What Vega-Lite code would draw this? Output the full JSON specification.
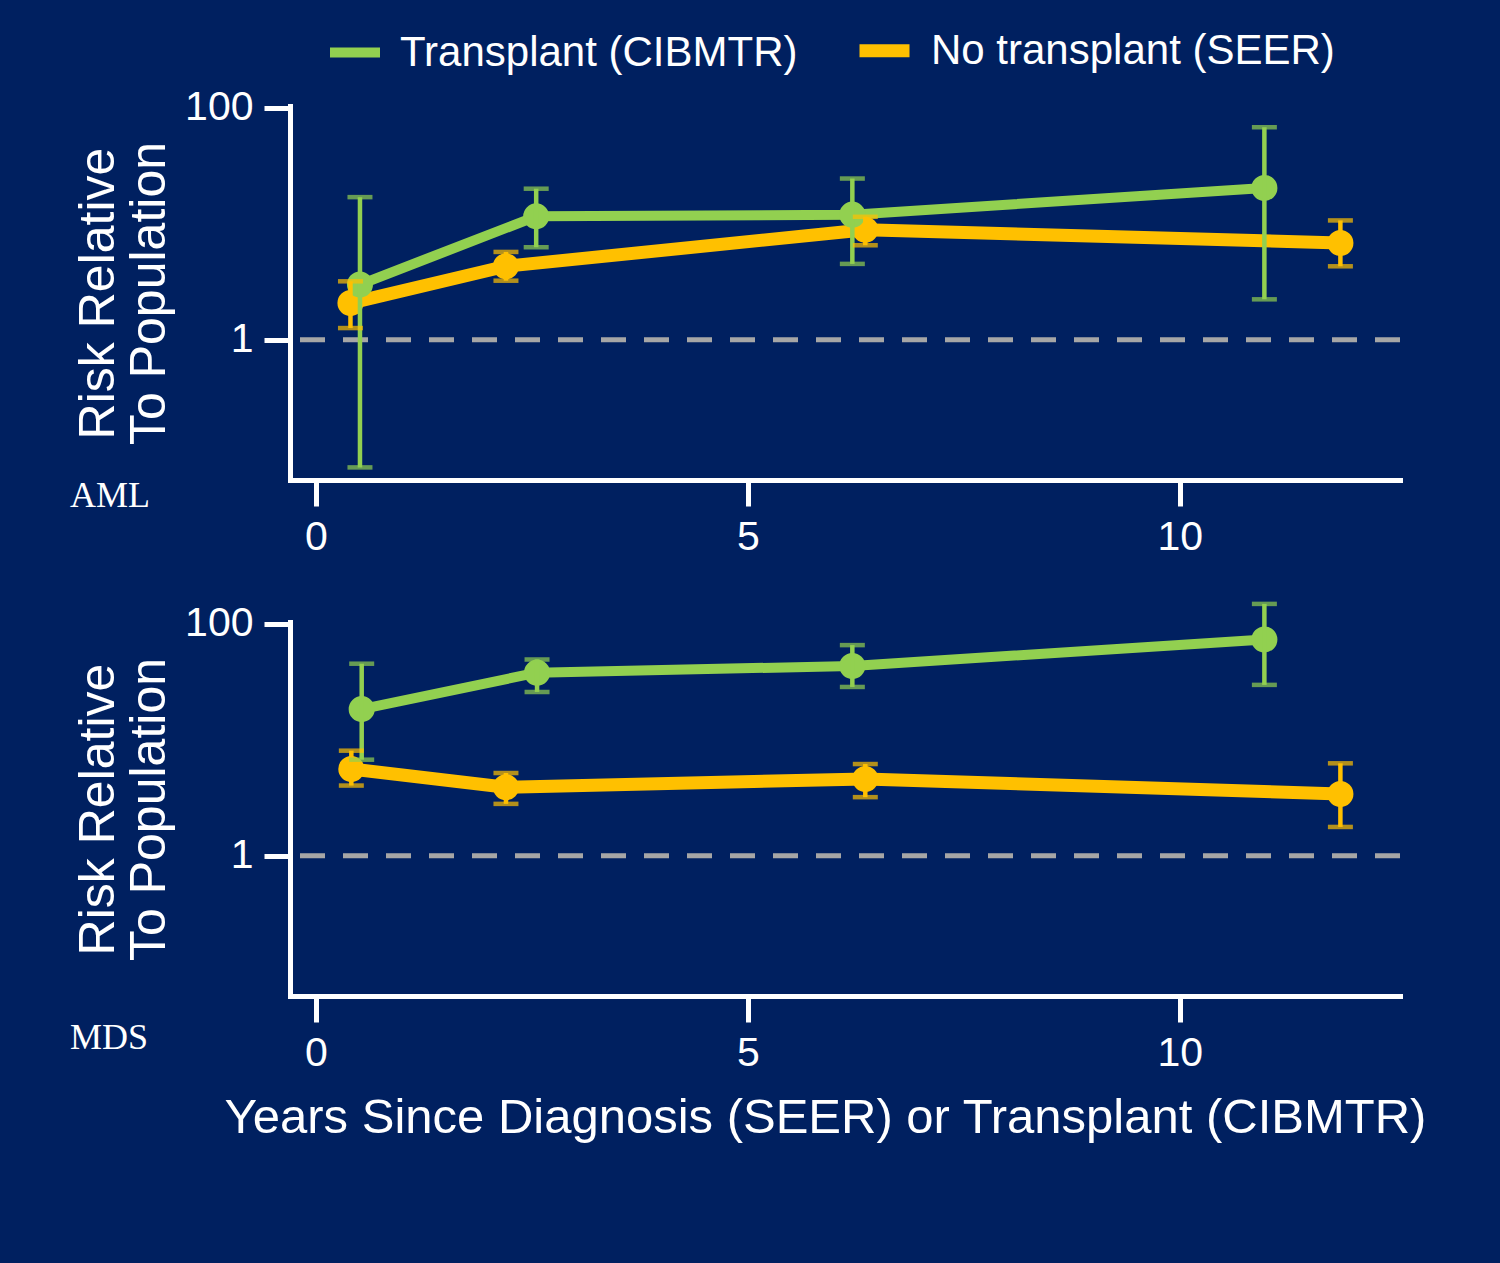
{
  "$schema": "https://vega.github.io/schema/vega-lite/v6.json",
  "background": "#002060",
  "padding": {"left": 70, "top": 19, "right": 73, "bottom": 138},
  "bounds": "flush",
  "spacing": 142,
  "config": {
    "view": {"stroke": null},
    "font": "Liberation Sans",
    "axis": {
      "domainColor": "white", "domainWidth": 5, "domainCap": "square",
      "tickColor": "white", "tickWidth": 5, "tickSize": 26,
      "labelColor": "white", "labelFont": "Liberation Sans", "labelFontSize": 41,
      "titleColor": "white", "titleFont": "Liberation Sans", "titleFontWeight": "normal",
      "grid": false
    }
  },
  "datasets": {
    "risk": [
      {"panel": "AML", "group": "No transplant (SEER)", "years": 0.40, "est": 2.07, "lo": 1.26, "hi": 3.19},
      {"panel": "AML", "group": "No transplant (SEER)", "years": 2.20, "est": 4.30, "lo": 3.23, "hi": 5.72},
      {"panel": "AML", "group": "No transplant (SEER)", "years": 6.36, "est": 8.9, "lo": 6.53, "hi": 11.5},
      {"panel": "AML", "group": "No transplant (SEER)", "years": 11.86, "est": 6.84, "lo": 4.30, "hi": 10.7},
      {"panel": "AML", "group": "Transplant (CIBMTR)", "years": 0.51, "est": 2.99, "lo": 0.079, "hi": 17.0},
      {"panel": "AML", "group": "Transplant (CIBMTR)", "years": 2.55, "est": 11.6, "lo": 6.28, "hi": 20.1},
      {"panel": "AML", "group": "Transplant (CIBMTR)", "years": 6.21, "est": 12.0, "lo": 4.51, "hi": 24.6},
      {"panel": "AML", "group": "Transplant (CIBMTR)", "years": 10.98, "est": 20.4, "lo": 2.23, "hi": 68.2},
      {"panel": "MDS", "group": "No transplant (SEER)", "years": 0.41, "est": 5.60, "lo": 4.03, "hi": 8.06},
      {"panel": "MDS", "group": "No transplant (SEER)", "years": 2.20, "est": 3.90, "lo": 2.80, "hi": 5.17},
      {"panel": "MDS", "group": "No transplant (SEER)", "years": 6.36, "est": 4.59, "lo": 3.20, "hi": 6.18},
      {"panel": "MDS", "group": "No transplant (SEER)", "years": 11.86, "est": 3.41, "lo": 1.77, "hi": 6.27},
      {"panel": "MDS", "group": "Transplant (CIBMTR)", "years": 0.53, "est": 18.4, "lo": 6.74, "hi": 45.4},
      {"panel": "MDS", "group": "Transplant (CIBMTR)", "years": 2.56, "est": 38.0, "lo": 25.9, "hi": 49.4},
      {"panel": "MDS", "group": "Transplant (CIBMTR)", "years": 6.21, "est": 43.4, "lo": 28.6, "hi": 65.7},
      {"panel": "MDS", "group": "Transplant (CIBMTR)", "years": 10.98, "est": 73.5, "lo": 29.8, "hi": 149}
    ],
    "ref": [{"ref": 1}]
  },
  "vconcat": [
    {
      "width": 1110, "height": 374,
      "title": {"text": "AML", "orient": "bottom", "anchor": "start", "frame": "group", "font": "Liberation Serif", "fontSize": 36, "fontWeight": "normal", "color": "white", "dx": -220, "dy": -78, "offset": 0},
      "layer": [
        {
          "data": {"name": "ref"},
          "mark": {"type": "rule", "color": "#a6a6a6", "strokeWidth": 5, "strokeDash": [25, 18]},
          "encoding": {"y": {"field": "ref", "type": "quantitative", "scale": {"type": "log", "domain": [0.0615, 104], "nice": false}}}
        },
        {
          "data": {"name": "risk"},
          "transform": [{"filter": "datum.panel === 'AML'"}],
          "layer": [
            {
              "mark": {"type": "line", "strokeCap": "round", "strokeJoin": "round"},
              "encoding": {
                "x": {"field": "years", "type": "quantitative", "scale": {"domain": [-0.3, 12.55], "nice": false, "zero": false}, "axis": {"values": [0, 5, 10], "format": "d", "title": null, "labelPadding": 11}},
                "y": {"field": "est", "type": "quantitative", "scale": {"type": "log", "domain": [0.0615, 104], "nice": false}, "axis": {"values": [1, 100], "format": ".0f", "title": ["Risk Relative", "To Population"], "titleFontSize": 50, "titleLineHeight": 51, "labelPadding": 11, "titlePadding": 10}},
                "color": {"field": "group", "type": "nominal", "scale": {"domain": ["Transplant (CIBMTR)", "No transplant (SEER)"], "range": ["#92d050", "#ffc000"]},
                  "legend": {"orient": "none", "legendX": 35, "legendY": -87, "direction": "horizontal", "title": null, "symbolType": "stroke", "symbolSize": 2500, "symbolStrokeWidth": 10, "labelFontSize": 42, "labelColor": "white", "labelFont": "Liberation Sans", "labelOffset": 15, "columnPadding": 35, "labelLimit": 0}},
                "strokeWidth": {"field": "group", "type": "nominal", "scale": {"domain": ["Transplant (CIBMTR)", "No transplant (SEER)"], "range": [10, 13]}, "legend": null}
              }
            },
            {
              "mark": {"type": "point", "filled": true, "opacity": 1, "size": 680},
              "encoding": {
                "x": {"field": "years", "type": "quantitative"},
                "y": {"field": "est", "type": "quantitative"},
                "color": {"field": "group", "type": "nominal"}
              }
            },
            {
              "mark": {"type": "rule", "strokeWidth": 4.5},
              "encoding": {
                "x": {"field": "years", "type": "quantitative"},
                "y": {"field": "lo", "type": "quantitative"},
                "y2": {"field": "hi"},
                "color": {"field": "group", "type": "nominal"}
              }
            },
            {
              "mark": {"type": "tick", "orient": "horizontal", "size": 25, "thickness": 4.5},
              "encoding": {
                "x": {"field": "years", "type": "quantitative"},
                "y": {"field": "lo", "type": "quantitative"},
                "color": {"field": "group", "type": "nominal"}
              }
            },
            {
              "mark": {"type": "tick", "orient": "horizontal", "size": 25, "thickness": 4.5},
              "encoding": {
                "x": {"field": "years", "type": "quantitative"},
                "y": {"field": "hi", "type": "quantitative"},
                "color": {"field": "group", "type": "nominal"}
              }
            }
          ]
        }
      ]
    },
    {
      "width": 1110, "height": 374,
      "title": {"text": "MDS", "orient": "bottom", "anchor": "start", "frame": "group", "font": "Liberation Serif", "fontSize": 36, "fontWeight": "normal", "color": "white", "dx": -220, "dy": -121, "offset": 0},
      "layer": [
        {
          "data": {"name": "ref"},
          "mark": {"type": "rule", "color": "#a6a6a6", "strokeWidth": 5, "strokeDash": [25, 18]},
          "encoding": {"y": {"field": "ref", "type": "quantitative", "scale": {"type": "log", "domain": [0.0615, 104], "nice": false}}}
        },
        {
          "data": {"name": "risk"},
          "transform": [{"filter": "datum.panel === 'MDS'"}],
          "layer": [
            {
              "mark": {"type": "line", "strokeCap": "round", "strokeJoin": "round"},
              "encoding": {
                "x": {"field": "years", "type": "quantitative", "scale": {"domain": [-0.3, 12.55], "nice": false, "zero": false}, "axis": {"values": [0, 5, 10], "format": "d", "title": "Years Since Diagnosis (SEER) or Transplant (CIBMTR)", "titleFontSize": 49, "titleX": 535, "titlePadding": 20, "labelPadding": 11}},
                "y": {"field": "est", "type": "quantitative", "scale": {"type": "log", "domain": [0.0615, 104], "nice": false}, "axis": {"values": [1, 100], "format": ".0f", "title": ["Risk Relative", "To Population"], "titleFontSize": 50, "titleLineHeight": 51, "labelPadding": 11, "titlePadding": 10}},
                "color": {"field": "group", "type": "nominal"},
                "strokeWidth": {"field": "group", "type": "nominal", "scale": {"domain": ["Transplant (CIBMTR)", "No transplant (SEER)"], "range": [10, 13]}, "legend": null}
              }
            },
            {
              "mark": {"type": "point", "filled": true, "opacity": 1, "size": 680},
              "encoding": {
                "x": {"field": "years", "type": "quantitative"},
                "y": {"field": "est", "type": "quantitative"},
                "color": {"field": "group", "type": "nominal"}
              }
            },
            {
              "mark": {"type": "rule", "strokeWidth": 4.5},
              "encoding": {
                "x": {"field": "years", "type": "quantitative"},
                "y": {"field": "lo", "type": "quantitative"},
                "y2": {"field": "hi"},
                "color": {"field": "group", "type": "nominal"}
              }
            },
            {
              "mark": {"type": "tick", "orient": "horizontal", "size": 25, "thickness": 4.5},
              "encoding": {
                "x": {"field": "years", "type": "quantitative"},
                "y": {"field": "lo", "type": "quantitative"},
                "color": {"field": "group", "type": "nominal"}
              }
            },
            {
              "mark": {"type": "tick", "orient": "horizontal", "size": 25, "thickness": 4.5},
              "encoding": {
                "x": {"field": "years", "type": "quantitative"},
                "y": {"field": "hi", "type": "quantitative"},
                "color": {"field": "group", "type": "nominal"}
              }
            }
          ]
        }
      ]
    }
  ]
}
